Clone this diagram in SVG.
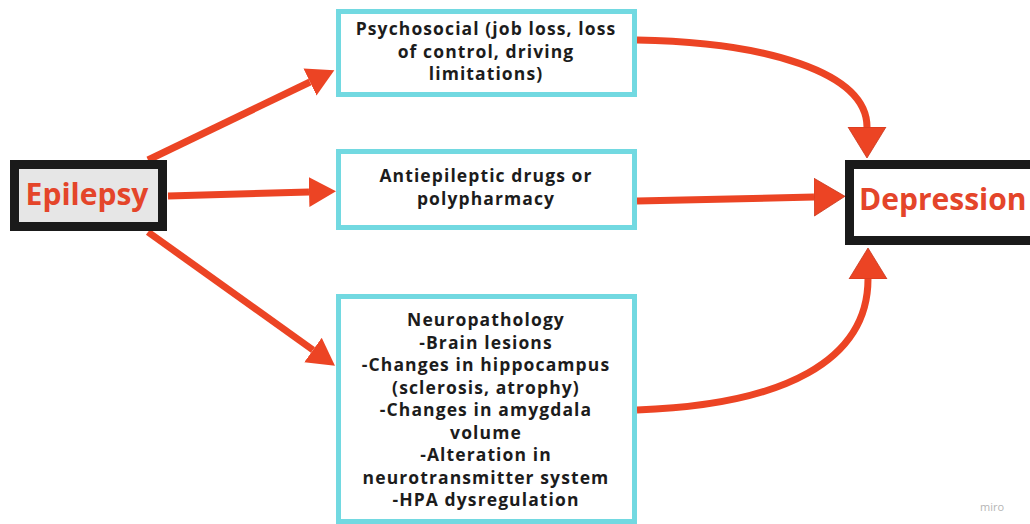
<svg xmlns="http://www.w3.org/2000/svg" width="1030" height="524" viewBox="0 0 1030 524">
<style>
.cy{fill:#ffffff;stroke:#72d9e1;stroke-width:5}
.bk{stroke:#1a1a1a;stroke-width:9}
.t{font-family:"Open Sans","DejaVu Sans",sans-serif;font-weight:bold;font-size:17.5px;letter-spacing:1.1px;fill:#1c1c1c;text-anchor:middle}
.big{font-family:"Open Sans","DejaVu Sans",sans-serif;font-weight:bold;font-size:30px;fill:#e4452a}
.ar{fill:none;stroke:#ec4424;stroke-width:7}
</style>
<defs>
<marker id="hs" markerUnits="userSpaceOnUse" viewBox="0 -16 28 32" markerWidth="28" markerHeight="32" refX="0" refY="0" orient="auto">
<path d="M0,-15 L27,0 L0,15 Z" fill="#ec4424"/>
</marker>
<marker id="hl" markerUnits="userSpaceOnUse" viewBox="0 -20 32 40" markerWidth="32" markerHeight="40" refX="0" refY="0" orient="auto">
<path d="M0,-19 L31,0 L0,19 Z" fill="#ec4424" stroke="#c9361c" stroke-width="0.8"/>
</marker>
</defs>
<rect width="1030" height="524" fill="#ffffff"/>
<g id="connectors">
<path class="ar" d="M148,160 L310,82" marker-end="url(#hs)"/>
<path class="ar" d="M168,196 L309,192" marker-end="url(#hs)"/>
<path class="ar" d="M148,232 L313,350" marker-end="url(#hs)"/>
<path class="ar" d="M637,40 C765,42 867,72 867,127" marker-end="url(#hl)"/>
<path class="ar" d="M637,201 L814,197" marker-end="url(#hl)"/>
<path class="ar" d="M637,410 C785,405 868,360 868,279" marker-end="url(#hl)"/>
</g>
<g id="epilepsy">
<rect x="14.5" y="164.5" width="148" height="62" fill="#e6e6e6" class="bk"/>
<text class="big" x="87" y="205" text-anchor="middle">Epilepsy</text>
</g>
<g id="psychosocial">
<rect class="cy" x="338.5" y="11.5" width="296" height="83"/>
<text class="t" x="486" y="35">Psychosocial (job loss, loss</text>
<text class="t" x="486" y="57.5">of control, driving</text>
<text class="t" x="486" y="80">limitations)</text>
</g>
<g id="aed">
<rect class="cy" x="338.5" y="151.5" width="296" height="76"/>
<text class="t" x="486" y="182">Antiepileptic drugs or</text>
<text class="t" x="486" y="204.5">polypharmacy</text>
</g>
<g id="neuro">
<rect class="cy" x="338.5" y="296.5" width="296" height="225"/>
<text class="t" x="486" y="326">Neuropathology</text>
<text class="t" x="486" y="348.5">-Brain lesions</text>
<text class="t" x="486" y="371">-Changes in hippocampus</text>
<text class="t" x="486" y="393.5">(sclerosis, atrophy)</text>
<text class="t" x="486" y="416">-Changes in amygdala</text>
<text class="t" x="486" y="438.5">volume</text>
<text class="t" x="486" y="461">-Alteration in</text>
<text class="t" x="486" y="483.5">neurotransmitter system</text>
<text class="t" x="486" y="506">-HPA dysregulation</text>
</g>
<g id="depression">
<rect x="849.5" y="164.5" width="190" height="76" fill="#ffffff" class="bk"/>
<text class="big" x="859" y="210">Depression</text>
</g>
<text x="992" y="511" font-family="'Open Sans','DejaVu Sans',sans-serif" font-size="11" fill="#b5b5b5" text-anchor="middle">miro</text>
</svg>
